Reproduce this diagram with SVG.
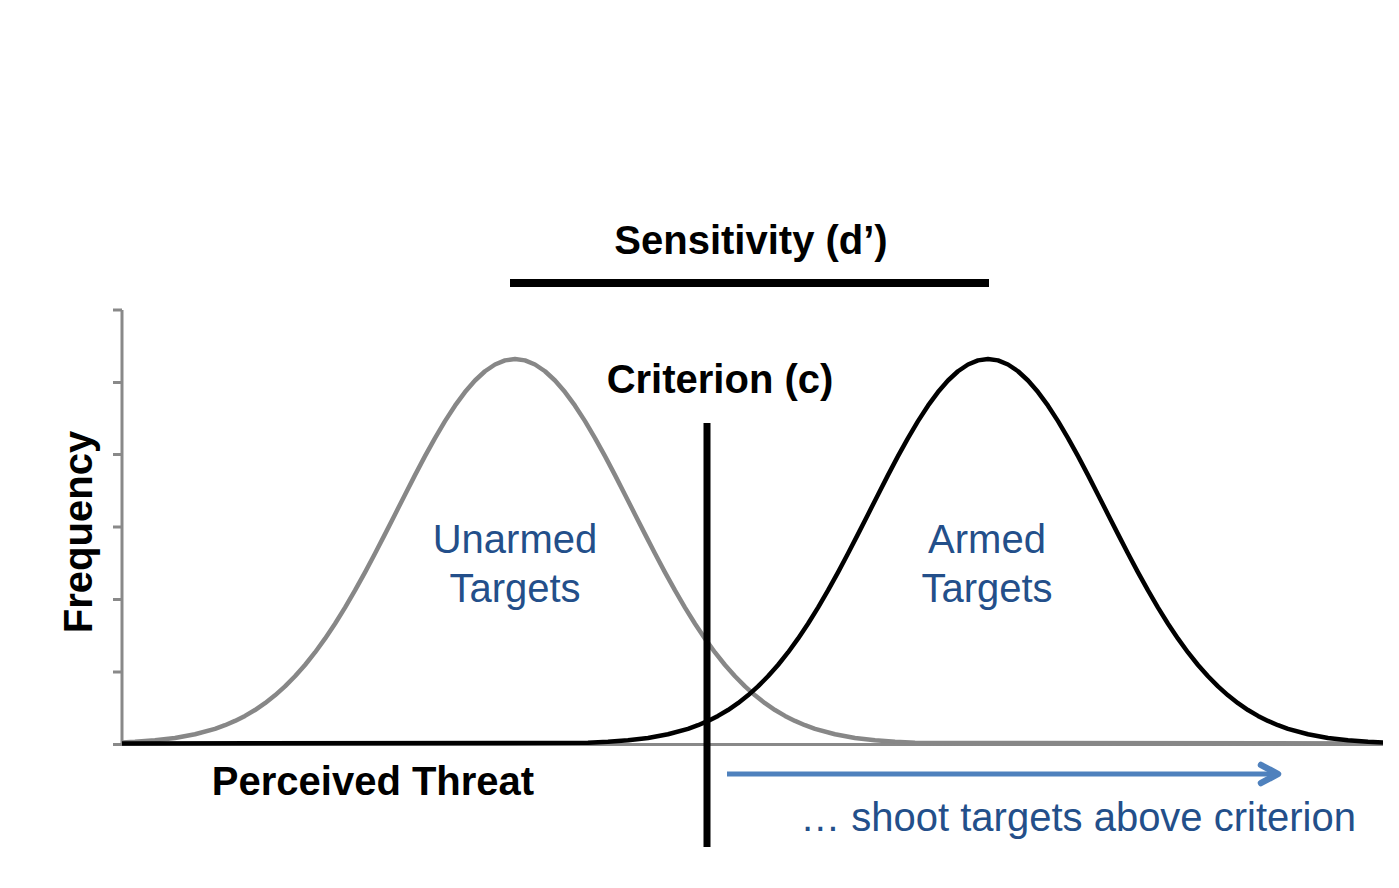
<svg xmlns="http://www.w3.org/2000/svg" xmlns:xlink="http://www.w3.org/1999/xlink" width="1399" height="888" viewBox="0 0 1399 888">
  <style>
    .lbl { font-family: "Liberation Sans", Arial, sans-serif; font-size: 40px; }
    .bold { font-weight: bold; fill: #000; }
    .blue { fill: #234f8a; }
    .axis { stroke: #898989; stroke-width: 3; fill: none; }
    .curve { fill: none; stroke-width: 4.5; stroke-linejoin: round; stroke-linecap: round; }
  </style>
  <defs>
    <!-- normal density, centred on x=0, peak 385 px above the baseline (y=744), sigma 118 px -->
    <path id="bell" d="M-900,743.6 L-400,742.77 L-380,741.84 L-360,740.33 L-340,737.94 L-320,734.26 L-300,728.80 L-290,725.21 L-280,720.94 L-270,715.91 L-260,710.02 L-250,703.18 L-240,695.33 L-230,686.39 L-220,676.29 L-210,664.99 L-200,652.45 L-190,638.69 L-180,623.73 L-170,607.62 L-160,590.46 L-150,572.38 L-140,553.54 L-130,534.14 L-120,514.44 L-110,494.67 L-100,475.15 L-90,456.17 L-80,438.05 L-70,421.12 L-60,405.69 L-50,392.06 L-40,380.50 L-30,371.24 L-20,364.49 L-10,360.38 L0,359.00 L10,360.38 L20,364.49 L30,371.24 L40,380.50 L50,392.06 L60,405.69 L70,421.12 L80,438.05 L90,456.17 L100,475.15 L110,494.67 L120,514.44 L130,534.14 L140,553.54 L150,572.38 L160,590.46 L170,607.62 L180,623.73 L190,638.69 L200,652.45 L210,664.99 L220,676.29 L230,686.39 L240,695.33 L250,703.18 L260,710.02 L270,715.91 L280,720.94 L290,725.21 L300,728.80 L320,734.26 L340,737.94 L360,740.33 L380,741.84 L400,742.77 L900,743.6"/>
    <clipPath id="plotArea">
      <rect x="122" y="300" width="1261" height="460"/>
    </clipPath>
  </defs>

  <!-- axes -->
  <g id="axes">
    <line class="axis" x1="122" y1="310" x2="122" y2="745"/>
    <line class="axis" x1="122" y1="744.5" x2="1383" y2="744.5"/>
    <g class="axis">
      <line x1="113" y1="310" x2="122" y2="310"/>
      <line x1="113" y1="382.5" x2="122" y2="382.5"/>
      <line x1="113" y1="454.5" x2="122" y2="454.5"/>
      <line x1="113" y1="527" x2="122" y2="527"/>
      <line x1="113" y1="599.5" x2="122" y2="599.5"/>
      <line x1="113" y1="672" x2="122" y2="672"/>
      <line x1="113" y1="744.5" x2="122" y2="744.5"/>
    </g>
    <text class="lbl bold" transform="translate(92,532) rotate(-90)" text-anchor="middle">Frequency</text>
    <text class="lbl bold" x="373" y="795" text-anchor="middle">Perceived Threat</text>
  </g>

  <!-- distributions -->
  <g id="unarmed">
    <g clip-path="url(#plotArea)">
      <use xlink:href="#bell" class="curve" stroke="#878787" transform="translate(515,0)"/>
    </g>
    <text class="lbl blue" x="515" y="553" text-anchor="middle">Unarmed</text>
    <text class="lbl blue" x="515" y="602" text-anchor="middle">Targets</text>
  </g>
  <g id="armed">
    <g clip-path="url(#plotArea)">
      <use xlink:href="#bell" class="curve" stroke="#000" transform="translate(988,0)"/>
    </g>
    <text class="lbl blue" x="987" y="553" text-anchor="middle">Armed</text>
    <text class="lbl blue" x="987" y="602" text-anchor="middle">Targets</text>
  </g>

  <!-- sensitivity span between the two means -->
  <g id="sensitivity">
    <rect x="510" y="279" width="479" height="8" fill="#000"/>
    <text class="lbl bold" x="751" y="254" text-anchor="middle">Sensitivity (d’)</text>
  </g>

  <!-- decision criterion -->
  <g id="criterion">
    <rect x="703.5" y="423" width="7" height="424" fill="#000"/>
    <text class="lbl bold" x="720" y="393" text-anchor="middle">Criterion (c)</text>
  </g>

  <!-- response rule -->
  <g id="connectors">
    <line x1="727" y1="774" x2="1276" y2="774" stroke="#4f81bd" stroke-width="5"/>
    <polyline points="1261,765 1278,774 1261,783" fill="none" stroke="#4f81bd" stroke-width="6.5" stroke-linecap="round" stroke-linejoin="round"/>
  </g>
  <g id="shoot-label">
    <text class="lbl blue" x="1356" y="831" text-anchor="end">… shoot targets above criterion</text>
  </g>
</svg>
